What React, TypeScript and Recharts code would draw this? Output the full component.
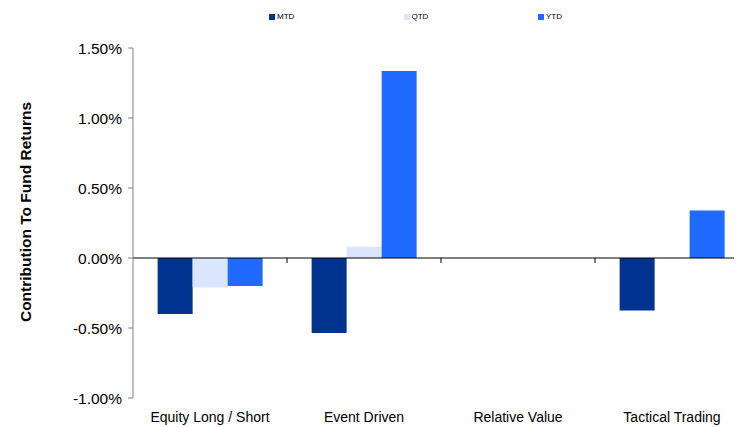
import React from "react";
import {
  BarChart,
  Bar,
  XAxis,
  YAxis,
  ReferenceLine,
} from "recharts";

const categories = ["Equity Long / Short", "Event Driven", "Relative Value", "Tactical Trading"];
const mtd = [-0.4, -0.535, 0, -0.375];
const qtd = [-0.21, 0.08, 0, 0];
const ytd = [-0.2, 1.335, 0, 0.34];
const yTicks = [-1, -0.5, 0, 0.5, 1, 1.5];

const SERIES = [
  { key: "MTD", color: "#00338F" },
  { key: "QTD", color: "#D9E6FD" },
  { key: "YTD", color: "#216AFF" },
];

const data = categories.map((name, i) => ({
  name,
  MTD: mtd[i],
  QTD: qtd[i],
  YTD: ytd[i],
}));

const FONT = "'Liberation Sans', Arial, sans-serif";

function LegendRow(): React.ReactElement {
  return (
    <div style={{ position: "absolute", top: 4, left: 0, width: 740, height: 14, fontFamily: FONT, fontSize: 8, color: "#000" }}>
      {SERIES.map((s, i) => (
        <div
          key={s.key}
          style={{ position: "absolute", left: 261 + i * 134.5, top: 0, display: "flex", alignItems: "center" }}
        >
          <span style={{ width: 6, height: 6, background: s.color, display: "inline-block", marginRight: 2 }} />
          <span>{s.key}</span>
        </div>
      ))}
    </div>
  );
}

// zero line with small tick marks at the category boundaries
function ZeroLine(props: any): React.ReactElement {
  const { x1, x2, y1 } = props;
  const w = (x2 - x1) / categories.length;
  return (
    <g>
      <line x1={x1} x2={x2} y1={y1} y2={y1} stroke="#000" strokeWidth={1} />
      {categories.map((_, i) => (
        <line key={i} x1={x1 + w * (i + 1)} x2={x1 + w * (i + 1)} y1={y1} y2={y1 + 5} stroke="#000" />
      ))}
    </g>
  );
}

function AxisTitle(props: any): React.ReactElement {
  const { viewBox } = props;
  const cy = viewBox.y + viewBox.height / 2 - 11;
  const cx = 17;
  return (
    <text
      x={cx}
      y={cy}
      transform={`rotate(-90 ${cx} ${cy})`}
      textAnchor="middle"
      dominantBaseline="central"
      fontFamily={FONT}
      fontSize={15.5}
      fontWeight="bold"
      fill="#000"
    >
      Contribution To Fund Returns
    </text>
  );
}

export default function App(): React.ReactElement {
  return (
    <div style={{ position: "relative", width: 734, height: 419, overflow: "hidden" }}>
      <LegendRow />
      <BarChart
        width={760}
        height={430}
        data={data}
        margin={{ top: 40, right: 19, left: 0, bottom: 10 }}
        barCategoryGap="16%"
        barGap={0}
      >
        <XAxis
          dataKey="name"
          axisLine={false}
          tickLine={false}
          tickMargin={8}
          height={30}
          interval={0}
          tick={{ fill: "#000", fontSize: 14, fontFamily: FONT }}
        />
        <YAxis
          width={125}
          domain={[-1, 1.5]}
          ticks={yTicks}
          interval={0}
          tickFormatter={(v: number) => `${v.toFixed(2)}%`}
          axisLine={{ stroke: "#808080" }}
          tickLine={{ stroke: "#808080" }}
          tickSize={5}
          tickMargin={6}
          tick={{ fill: "#000", fontSize: 15.5, fontFamily: FONT }}
          label={{ content: AxisTitle }}
        />
        {SERIES.map((s) => (
          <Bar key={s.key} dataKey={s.key} fill={s.color} isAnimationActive={false} />
        ))}
        <ReferenceLine y={0} shape={ZeroLine} />
      </BarChart>
    </div>
  );
}
